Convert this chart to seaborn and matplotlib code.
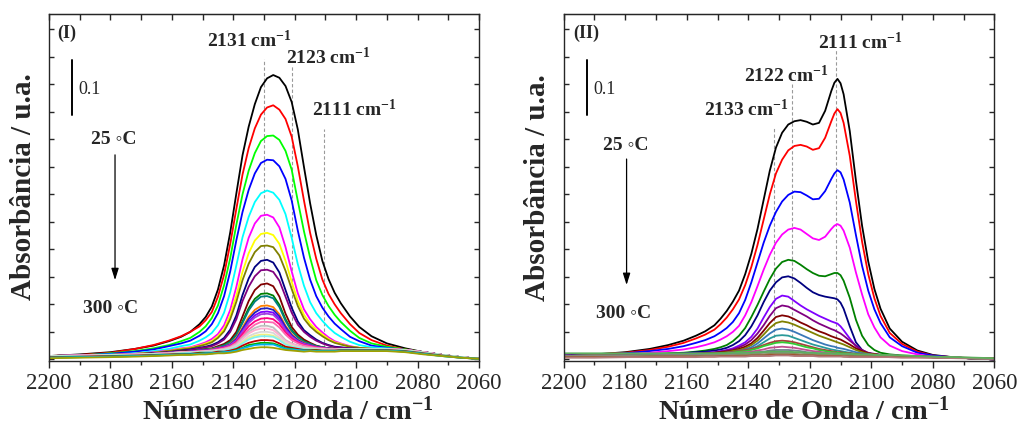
import matplotlib
matplotlib.use("Agg")
import matplotlib.pyplot as plt
import matplotlib.transforms as mtransforms
from matplotlib.ticker import MultipleLocator, NullFormatter
import pandas as pd
import seaborn as sns

sns.set_style("ticks")
plt.rcParams["font.family"] = ["Liberation Serif", "DejaVu Serif"]
plt.rcParams["mathtext.fontset"] = "custom"
plt.rcParams["mathtext.rm"] = "Liberation Serif"
plt.rcParams["mathtext.bf"] = "Liberation Serif:bold"
plt.rcParams["mathtext.it"] = "Liberation Serif:italic"

# ---------------- panel (I) ----------------
WN_I = [2200, 2190, 2180, 2172, 2166, 2161, 2157, 2154, 2151, 2149, 2147, 2145, 2143, 2141,
        2139, 2137, 2135, 2133, 2131, 2129, 2127, 2125, 2123, 2121, 2119, 2117, 2115, 2113,
        2111, 2109, 2107, 2105, 2102, 2099, 2095, 2090, 2084, 2078, 2072, 2066, 2060]

I_BLACK = [0.006, 0.009, 0.013, 0.019, 0.025, 0.033, 0.041, 0.050, 0.064, 0.077, 0.096, 0.127, 0.171, 0.231,
           0.302, 0.371, 0.423, 0.464, 0.495, 0.511, 0.517, 0.512, 0.497, 0.468, 0.418, 0.350, 0.284, 0.226,
           0.179, 0.146, 0.121, 0.102, 0.078, 0.059, 0.042, 0.029, 0.020, 0.013, 0.008, 0.004, 0.001]
I_RED = [0.006, 0.008, 0.012, 0.019, 0.026, 0.034, 0.042, 0.050, 0.060, 0.071, 0.086, 0.114, 0.154, 0.210,
         0.274, 0.336, 0.384, 0.420, 0.445, 0.458, 0.462, 0.454, 0.437, 0.405, 0.351, 0.289, 0.230, 0.183,
         0.145, 0.119, 0.100, 0.084, 0.064, 0.048, 0.035, 0.025, 0.018, 0.013, 0.008, 0.004, 0.001]
I_LIME = [0.006, 0.007, 0.011, 0.015, 0.020, 0.026, 0.033, 0.039, 0.050, 0.060, 0.075, 0.098, 0.135, 0.184,
          0.245, 0.300, 0.343, 0.375, 0.397, 0.406, 0.407, 0.399, 0.379, 0.345, 0.288, 0.233, 0.185, 0.144,
          0.117, 0.097, 0.081, 0.068, 0.052, 0.039, 0.029, 0.023, 0.018, 0.013, 0.008, 0.004, 0.001]
I_BLUE = [0.006, 0.007, 0.010, 0.014, 0.018, 0.024, 0.029, 0.034, 0.043, 0.051, 0.064, 0.084, 0.115, 0.160,
          0.217, 0.268, 0.308, 0.338, 0.357, 0.363, 0.362, 0.351, 0.328, 0.289, 0.234, 0.185, 0.145, 0.115,
          0.094, 0.078, 0.065, 0.055, 0.041, 0.033, 0.025, 0.021, 0.017, 0.013, 0.008, 0.004, 0.001]
I_CYAN = [0.006, 0.007, 0.009, 0.011, 0.015, 0.019, 0.024, 0.027, 0.034, 0.040, 0.048, 0.062, 0.085, 0.122,
          0.171, 0.222, 0.259, 0.286, 0.302, 0.307, 0.303, 0.290, 0.264, 0.221, 0.173, 0.134, 0.104, 0.084,
          0.070, 0.058, 0.048, 0.041, 0.032, 0.026, 0.022, 0.020, 0.017, 0.013, 0.008, 0.004, 0.001]
I_MAGENTA = [0.006, 0.007, 0.008, 0.010, 0.013, 0.016, 0.020, 0.022, 0.027, 0.031, 0.037, 0.046, 0.062, 0.090,
             0.132, 0.182, 0.221, 0.247, 0.261, 0.263, 0.258, 0.240, 0.204, 0.160, 0.120, 0.091, 0.073, 0.059,
             0.049, 0.040, 0.033, 0.029, 0.024, 0.021, 0.019, 0.019, 0.017, 0.013, 0.008, 0.004, 0.001]
I_YELLOW = [0.006, 0.007, 0.008, 0.010, 0.012, 0.015, 0.019, 0.021, 0.025, 0.029, 0.033, 0.042, 0.055, 0.080,
            0.116, 0.159, 0.193, 0.216, 0.228, 0.230, 0.226, 0.210, 0.179, 0.141, 0.106, 0.081, 0.065, 0.054,
            0.045, 0.037, 0.031, 0.028, 0.023, 0.021, 0.019, 0.019, 0.017, 0.013, 0.008, 0.004, 0.001]
I_OLIVE = [0.006, 0.007, 0.008, 0.010, 0.012, 0.015, 0.018, 0.020, 0.024, 0.027, 0.031, 0.039, 0.051, 0.073,
           0.105, 0.144, 0.174, 0.195, 0.206, 0.207, 0.204, 0.189, 0.161, 0.128, 0.097, 0.074, 0.060, 0.050,
           0.042, 0.035, 0.030, 0.027, 0.023, 0.021, 0.019, 0.019, 0.017, 0.013, 0.008, 0.004, 0.001]
I_NAVY = [0.006, 0.007, 0.008, 0.009, 0.011, 0.013, 0.016, 0.018, 0.021, 0.023, 0.026, 0.031, 0.039, 0.054,
          0.080, 0.117, 0.147, 0.168, 0.179, 0.181, 0.176, 0.158, 0.126, 0.094, 0.069, 0.053, 0.044, 0.036,
          0.030, 0.026, 0.023, 0.022, 0.020, 0.019, 0.019, 0.019, 0.017, 0.013, 0.008, 0.004, 0.001]
I_PURPLE = [0.006, 0.007, 0.008, 0.009, 0.011, 0.013, 0.015, 0.017, 0.020, 0.022, 0.024, 0.029, 0.036, 0.050,
            0.073, 0.106, 0.132, 0.151, 0.162, 0.163, 0.159, 0.143, 0.114, 0.085, 0.063, 0.050, 0.041, 0.034,
            0.029, 0.025, 0.022, 0.021, 0.020, 0.019, 0.019, 0.019, 0.017, 0.013, 0.008, 0.004, 0.001]
I_WINE = [0.006, 0.007, 0.008, 0.009, 0.010, 0.012, 0.014, 0.015, 0.017, 0.019, 0.020, 0.024, 0.028, 0.035,
          0.050, 0.078, 0.106, 0.126, 0.136, 0.138, 0.133, 0.114, 0.083, 0.059, 0.045, 0.036, 0.030, 0.025,
          0.022, 0.020, 0.019, 0.019, 0.019, 0.019, 0.019, 0.019, 0.017, 0.013, 0.008, 0.004, 0.001]
I_DKGREEN = [0.006, 0.007, 0.008, 0.009, 0.010, 0.012, 0.014, 0.014, 0.017, 0.018, 0.019, 0.022, 0.026, 0.032,
             0.045, 0.069, 0.093, 0.110, 0.119, 0.120, 0.116, 0.099, 0.073, 0.053, 0.041, 0.033, 0.028, 0.024,
             0.022, 0.020, 0.019, 0.019, 0.019, 0.019, 0.019, 0.019, 0.017, 0.013, 0.008, 0.004, 0.001]
I_TEAL = [0.006, 0.007, 0.008, 0.009, 0.010, 0.012, 0.013, 0.014, 0.017, 0.018, 0.019, 0.022, 0.025, 0.031,
          0.044, 0.066, 0.089, 0.105, 0.114, 0.115, 0.111, 0.095, 0.070, 0.051, 0.040, 0.032, 0.028, 0.024,
          0.022, 0.020, 0.019, 0.019, 0.019, 0.019, 0.019, 0.019, 0.017, 0.013, 0.008, 0.004, 0.001]
I_ORANGE = [0.006, 0.007, 0.008, 0.009, 0.010, 0.012, 0.013, 0.014, 0.016, 0.017, 0.018, 0.021, 0.023, 0.028,
            0.039, 0.058, 0.077, 0.090, 0.097, 0.098, 0.095, 0.082, 0.061, 0.046, 0.036, 0.030, 0.026, 0.023,
            0.021, 0.020, 0.019, 0.019, 0.019, 0.019, 0.019, 0.019, 0.017, 0.013, 0.008, 0.004, 0.001]
I_ROYAL = [0.006, 0.007, 0.008, 0.009, 0.010, 0.012, 0.013, 0.014, 0.016, 0.017, 0.017, 0.020, 0.023, 0.027,
           0.037, 0.055, 0.073, 0.085, 0.092, 0.093, 0.090, 0.078, 0.059, 0.044, 0.035, 0.029, 0.026, 0.023,
           0.021, 0.020, 0.019, 0.019, 0.019, 0.019, 0.019, 0.019, 0.017, 0.013, 0.008, 0.004, 0.001]
I_VIOLET = [0.006, 0.007, 0.008, 0.009, 0.010, 0.012, 0.013, 0.014, 0.016, 0.016, 0.017, 0.020, 0.022, 0.026,
            0.035, 0.052, 0.068, 0.080, 0.086, 0.087, 0.085, 0.073, 0.055, 0.042, 0.033, 0.028, 0.025, 0.022,
            0.021, 0.019, 0.019, 0.019, 0.019, 0.019, 0.019, 0.019, 0.017, 0.013, 0.008, 0.004, 0.001]
I_BLUEVIOLET = [0.006, 0.007, 0.008, 0.009, 0.010, 0.012, 0.013, 0.014, 0.015, 0.016, 0.017, 0.019, 0.022, 0.026,
                0.034, 0.050, 0.066, 0.076, 0.082, 0.083, 0.081, 0.070, 0.053, 0.041, 0.033, 0.028, 0.025, 0.022,
                0.020, 0.019, 0.019, 0.019, 0.019, 0.019, 0.019, 0.019, 0.017, 0.013, 0.008, 0.004, 0.001]
I_DEEPPINK = [0.006, 0.007, 0.008, 0.009, 0.010, 0.011, 0.013, 0.013, 0.015, 0.016, 0.016, 0.019, 0.021, 0.024,
              0.032, 0.046, 0.060, 0.069, 0.074, 0.075, 0.073, 0.064, 0.049, 0.038, 0.031, 0.026, 0.024, 0.022,
              0.020, 0.019, 0.019, 0.019, 0.019, 0.019, 0.019, 0.019, 0.017, 0.013, 0.008, 0.004, 0.001]
I_HOTPINK = [0.006, 0.007, 0.008, 0.009, 0.010, 0.011, 0.013, 0.013, 0.015, 0.015, 0.016, 0.018, 0.020, 0.023,
             0.030, 0.042, 0.054, 0.063, 0.068, 0.068, 0.067, 0.058, 0.045, 0.035, 0.029, 0.025, 0.023, 0.021,
             0.020, 0.019, 0.019, 0.019, 0.019, 0.019, 0.019, 0.019, 0.017, 0.013, 0.008, 0.004, 0.001]
I_SILVER = [0.006, 0.007, 0.008, 0.009, 0.010, 0.011, 0.013, 0.013, 0.014, 0.015, 0.016, 0.017, 0.019, 0.022,
            0.028, 0.039, 0.050, 0.057, 0.061, 0.061, 0.058, 0.047, 0.035, 0.029, 0.025, 0.022, 0.021, 0.020,
            0.019, 0.018, 0.018, 0.019, 0.019, 0.019, 0.019, 0.019, 0.017, 0.013, 0.008, 0.004, 0.001]
I_LTPINK = [0.006, 0.007, 0.008, 0.009, 0.010, 0.011, 0.013, 0.013, 0.014, 0.015, 0.015, 0.017, 0.018, 0.021,
            0.026, 0.037, 0.047, 0.053, 0.056, 0.056, 0.053, 0.044, 0.033, 0.028, 0.024, 0.021, 0.020, 0.019,
            0.019, 0.018, 0.018, 0.019, 0.019, 0.019, 0.019, 0.019, 0.017, 0.013, 0.008, 0.004, 0.001]
I_LTGRAY = [0.005, 0.006, 0.007, 0.008, 0.009, 0.010, 0.011, 0.012, 0.013, 0.014, 0.014, 0.016, 0.017, 0.019,
            0.024, 0.033, 0.042, 0.047, 0.050, 0.050, 0.048, 0.039, 0.031, 0.025, 0.022, 0.020, 0.019, 0.018,
            0.018, 0.017, 0.017, 0.018, 0.018, 0.018, 0.018, 0.018, 0.016, 0.012, 0.008, 0.004, 0.001]
I_LTYELLOW = [0.005, 0.006, 0.007, 0.008, 0.009, 0.010, 0.011, 0.012, 0.013, 0.013, 0.014, 0.015, 0.016, 0.018,
              0.022, 0.031, 0.038, 0.043, 0.045, 0.045, 0.043, 0.036, 0.028, 0.024, 0.021, 0.019, 0.019, 0.018,
              0.017, 0.017, 0.017, 0.018, 0.018, 0.018, 0.018, 0.018, 0.016, 0.012, 0.008, 0.004, 0.001]
I_LTCYAN = [0.005, 0.006, 0.007, 0.008, 0.009, 0.010, 0.011, 0.012, 0.013, 0.013, 0.014, 0.015, 0.016, 0.018,
            0.022, 0.029, 0.036, 0.040, 0.042, 0.042, 0.041, 0.035, 0.027, 0.023, 0.021, 0.019, 0.018, 0.018,
            0.017, 0.017, 0.017, 0.018, 0.018, 0.018, 0.018, 0.018, 0.016, 0.012, 0.008, 0.004, 0.001]
I_DARKRED = [0.004, 0.005, 0.006, 0.007, 0.008, 0.009, 0.010, 0.010, 0.012, 0.012, 0.012, 0.014, 0.014, 0.016,
             0.019, 0.025, 0.030, 0.033, 0.035, 0.035, 0.034, 0.029, 0.023, 0.021, 0.019, 0.017, 0.017, 0.017,
             0.016, 0.016, 0.016, 0.017, 0.017, 0.017, 0.017, 0.017, 0.015, 0.011, 0.007, 0.003, 0.001]
I_GREEN = [0.003, 0.004, 0.005, 0.006, 0.007, 0.008, 0.009, 0.009, 0.011, 0.011, 0.011, 0.012, 0.013, 0.014,
           0.017, 0.021, 0.026, 0.028, 0.030, 0.030, 0.029, 0.025, 0.020, 0.019, 0.017, 0.016, 0.016, 0.016,
           0.015, 0.015, 0.015, 0.016, 0.016, 0.016, 0.016, 0.016, 0.014, 0.010, 0.006, 0.003, 0.001]
I_SKY = [0.003, 0.004, 0.005, 0.006, 0.007, 0.008, 0.009, 0.009, 0.010, 0.011, 0.011, 0.012, 0.013, 0.014,
         0.016, 0.020, 0.023, 0.026, 0.027, 0.027, 0.027, 0.023, 0.019, 0.018, 0.017, 0.016, 0.016, 0.015,
         0.015, 0.015, 0.015, 0.016, 0.016, 0.016, 0.016, 0.016, 0.014, 0.010, 0.006, 0.003, 0.001]
I_KHAKI = [0.002, 0.003, 0.004, 0.005, 0.006, 0.007, 0.008, 0.008, 0.009, 0.009, 0.010, 0.011, 0.011, 0.012,
           0.014, 0.017, 0.019, 0.021, 0.022, 0.022, 0.021, 0.019, 0.017, 0.016, 0.015, 0.014, 0.015, 0.014,
           0.014, 0.014, 0.014, 0.015, 0.015, 0.015, 0.015, 0.015, 0.013, 0.009, 0.006, 0.003, 0.001]

CURVES_I = [I_BLACK, I_RED, I_LIME, I_BLUE, I_CYAN, I_MAGENTA, I_YELLOW, I_OLIVE, I_NAVY, I_PURPLE,
            I_WINE, I_DKGREEN, I_TEAL, I_ORANGE, I_ROYAL, I_VIOLET, I_BLUEVIOLET, I_DEEPPINK, I_HOTPINK,
            I_SILVER, I_LTPINK, I_LTGRAY, I_LTYELLOW, I_LTCYAN, I_DARKRED, I_GREEN, I_SKY, I_KHAKI]
COLORS_I = ["#000000", "#FF0000", "#00FF00", "#0000FF", "#00FFFF", "#FF00FF", "#FFFF00", "#808000",
            "#000080", "#800080", "#800000", "#008000", "#008080", "#FF8000", "#2020C0", "#8000FF",
            "#A040E0", "#FF0080", "#FF66B0", "#C0C0C0", "#FFB0D0", "#D8D8D8", "#F0F080", "#80F0F0",
            "#C00000", "#00B000", "#00B0F0", "#A0A000"]

# ---------------- panel (II) ----------------
WN_II = [2200, 2190, 2180, 2172, 2166, 2161, 2157, 2154, 2151, 2149, 2147, 2145, 2143, 2141, 2139,
         2137, 2135, 2133, 2131, 2129, 2127, 2125, 2123, 2121, 2119, 2117, 2115, 2113, 2112, 2111,
         2110, 2109, 2107, 2105, 2103, 2101, 2099, 2097, 2094, 2090, 2085, 2080, 2072, 2060]

II_BLACK = [0.007, 0.009, 0.013, 0.019, 0.026, 0.034, 0.043, 0.051, 0.062, 0.074, 0.088, 0.105, 0.125, 0.155, 0.192,
            0.237, 0.290, 0.343, 0.385, 0.412, 0.427, 0.433, 0.435, 0.432, 0.427, 0.430, 0.452, 0.488, 0.503, 0.510,
            0.502, 0.482, 0.415, 0.325, 0.243, 0.178, 0.128, 0.092, 0.056, 0.032, 0.016, 0.008, 0.003, 0.000]
II_RED = [0.007, 0.009, 0.012, 0.017, 0.023, 0.030, 0.038, 0.045, 0.054, 0.064, 0.076, 0.091, 0.109, 0.135, 0.168,
          0.208, 0.254, 0.300, 0.338, 0.363, 0.380, 0.388, 0.390, 0.387, 0.381, 0.384, 0.403, 0.433, 0.447, 0.455,
          0.448, 0.430, 0.370, 0.288, 0.214, 0.155, 0.111, 0.079, 0.048, 0.028, 0.014, 0.007, 0.003, 0.000]
II_BLUE = [0.007, 0.008, 0.011, 0.015, 0.019, 0.024, 0.030, 0.035, 0.042, 0.049, 0.057, 0.068, 0.084, 0.108, 0.140,
           0.176, 0.212, 0.243, 0.268, 0.287, 0.299, 0.305, 0.304, 0.298, 0.291, 0.292, 0.306, 0.328, 0.338, 0.344,
           0.340, 0.327, 0.285, 0.226, 0.170, 0.125, 0.091, 0.066, 0.040, 0.024, 0.012, 0.007, 0.003, 0.000]
II_MAGENTA = [0.006, 0.007, 0.009, 0.012, 0.015, 0.018, 0.022, 0.026, 0.031, 0.036, 0.042, 0.050, 0.061, 0.080, 0.104,
              0.133, 0.163, 0.190, 0.212, 0.227, 0.236, 0.239, 0.236, 0.228, 0.220, 0.217, 0.223, 0.237, 0.243, 0.246,
              0.243, 0.234, 0.203, 0.158, 0.118, 0.082, 0.058, 0.040, 0.025, 0.015, 0.009, 0.005, 0.003, 0.000]
II_GREEN = [0.006, 0.007, 0.008, 0.009, 0.011, 0.012, 0.014, 0.016, 0.019, 0.022, 0.026, 0.033, 0.043, 0.057, 0.077,
            0.099, 0.123, 0.146, 0.165, 0.177, 0.181, 0.179, 0.172, 0.164, 0.157, 0.152, 0.151, 0.155, 0.157, 0.157,
            0.153, 0.143, 0.112, 0.072, 0.043, 0.026, 0.017, 0.012, 0.009, 0.007, 0.006, 0.005, 0.003, 0.000]
II_NAVY = [0.006, 0.007, 0.008, 0.009, 0.010, 0.011, 0.013, 0.014, 0.016, 0.018, 0.021, 0.026, 0.033, 0.044, 0.060,
           0.080, 0.104, 0.125, 0.140, 0.149, 0.151, 0.147, 0.139, 0.130, 0.122, 0.117, 0.114, 0.112, 0.111, 0.109,
           0.103, 0.092, 0.060, 0.031, 0.017, 0.011, 0.009, 0.008, 0.007, 0.006, 0.005, 0.004, 0.003, 0.000]
II_VIOLET = [0.006, 0.007, 0.007, 0.008, 0.009, 0.010, 0.011, 0.012, 0.013, 0.015, 0.017, 0.020, 0.025, 0.031, 0.041,
             0.056, 0.076, 0.095, 0.110, 0.116, 0.114, 0.106, 0.098, 0.091, 0.085, 0.079, 0.074, 0.069, 0.067, 0.065,
             0.060, 0.053, 0.038, 0.024, 0.015, 0.011, 0.009, 0.008, 0.007, 0.006, 0.005, 0.004, 0.003, 0.000]
II_PURPLE = [0.006, 0.007, 0.007, 0.008, 0.009, 0.010, 0.010, 0.011, 0.012, 0.014, 0.016, 0.018, 0.022, 0.027, 0.035,
             0.047, 0.062, 0.079, 0.093, 0.098, 0.096, 0.090, 0.084, 0.078, 0.071, 0.065, 0.060, 0.055, 0.053, 0.050,
             0.047, 0.043, 0.034, 0.025, 0.017, 0.012, 0.010, 0.008, 0.007, 0.006, 0.005, 0.004, 0.003, 0.000]
II_WINE = [0.006, 0.007, 0.007, 0.008, 0.009, 0.009, 0.010, 0.011, 0.012, 0.013, 0.014, 0.016, 0.019, 0.023, 0.029,
           0.039, 0.052, 0.066, 0.077, 0.080, 0.078, 0.073, 0.067, 0.062, 0.056, 0.051, 0.047, 0.042, 0.040, 0.038,
           0.036, 0.033, 0.027, 0.020, 0.015, 0.011, 0.009, 0.008, 0.007, 0.006, 0.005, 0.004, 0.003, 0.000]
II_OLIVE = [0.006, 0.007, 0.007, 0.008, 0.008, 0.009, 0.010, 0.010, 0.011, 0.012, 0.013, 0.015, 0.017, 0.020, 0.026,
            0.034, 0.045, 0.057, 0.066, 0.069, 0.067, 0.063, 0.058, 0.053, 0.048, 0.043, 0.039, 0.035, 0.033, 0.031,
            0.029, 0.027, 0.022, 0.017, 0.013, 0.010, 0.009, 0.008, 0.007, 0.006, 0.005, 0.004, 0.003, 0.000]
II_STEEL = [0.006, 0.007, 0.007, 0.008, 0.008, 0.009, 0.009, 0.010, 0.010, 0.011, 0.012, 0.013, 0.015, 0.018, 0.022,
            0.029, 0.038, 0.047, 0.054, 0.056, 0.054, 0.050, 0.045, 0.040, 0.035, 0.031, 0.027, 0.024, 0.023, 0.021,
            0.020, 0.019, 0.016, 0.013, 0.011, 0.009, 0.008, 0.008, 0.007, 0.006, 0.005, 0.004, 0.003, 0.000]
II_TEAL = [0.006, 0.007, 0.007, 0.008, 0.008, 0.009, 0.009, 0.009, 0.010, 0.010, 0.011, 0.012, 0.013, 0.015, 0.019,
           0.024, 0.031, 0.038, 0.043, 0.044, 0.043, 0.039, 0.035, 0.031, 0.027, 0.024, 0.021, 0.018, 0.017, 0.016,
           0.015, 0.014, 0.012, 0.010, 0.009, 0.008, 0.008, 0.007, 0.007, 0.006, 0.005, 0.004, 0.003, 0.000]
II_BROWN = [0.006, 0.007, 0.007, 0.008, 0.008, 0.009, 0.009, 0.010, 0.011, 0.011, 0.012, 0.013, 0.015, 0.017, 0.019,
            0.022, 0.026, 0.030, 0.033, 0.034, 0.033, 0.031, 0.028, 0.025, 0.022, 0.019, 0.017, 0.015, 0.014, 0.013,
            0.013, 0.012, 0.011, 0.010, 0.009, 0.008, 0.008, 0.007, 0.007, 0.006, 0.005, 0.004, 0.003, 0.000]
II_LEAF = [0.006, 0.007, 0.007, 0.008, 0.008, 0.009, 0.009, 0.010, 0.010, 0.011, 0.011, 0.012, 0.014, 0.015, 0.017,
           0.020, 0.024, 0.027, 0.030, 0.031, 0.030, 0.028, 0.025, 0.022, 0.020, 0.017, 0.015, 0.013, 0.013, 0.012,
           0.011, 0.011, 0.010, 0.009, 0.008, 0.008, 0.007, 0.007, 0.006, 0.006, 0.005, 0.004, 0.003, 0.001]
II_ORCHID = [0.006, 0.007, 0.007, 0.007, 0.008, 0.008, 0.009, 0.009, 0.009, 0.010, 0.010, 0.011, 0.012, 0.013, 0.014,
             0.016, 0.018, 0.021, 0.022, 0.023, 0.022, 0.021, 0.019, 0.017, 0.015, 0.014, 0.012, 0.011, 0.011, 0.010,
             0.010, 0.009, 0.009, 0.008, 0.008, 0.007, 0.007, 0.007, 0.006, 0.006, 0.005, 0.004, 0.003, 0.001]
II_SLATE = [0.006, 0.006, 0.007, 0.007, 0.007, 0.008, 0.008, 0.008, 0.009, 0.009, 0.009, 0.010, 0.011, 0.011, 0.012,
            0.013, 0.014, 0.016, 0.017, 0.017, 0.017, 0.016, 0.015, 0.013, 0.012, 0.011, 0.010, 0.009, 0.009, 0.009,
            0.008, 0.008, 0.008, 0.007, 0.007, 0.007, 0.007, 0.006, 0.006, 0.006, 0.005, 0.004, 0.003, 0.001]
II_GRAY = [0.005, 0.006, 0.006, 0.006, 0.007, 0.007, 0.007, 0.008, 0.008, 0.008, 0.008, 0.009, 0.009, 0.010, 0.010,
           0.011, 0.012, 0.012, 0.013, 0.013, 0.013, 0.012, 0.012, 0.011, 0.010, 0.010, 0.009, 0.009, 0.008, 0.008,
           0.008, 0.008, 0.007, 0.007, 0.007, 0.007, 0.006, 0.006, 0.006, 0.005, 0.005, 0.004, 0.003, 0.002]
II_OLIVEGRAY = [0.005, 0.005, 0.005, 0.006, 0.006, 0.006, 0.006, 0.007, 0.007, 0.007, 0.007, 0.007, 0.008, 0.008, 0.008,
                0.009, 0.009, 0.010, 0.010, 0.010, 0.010, 0.010, 0.009, 0.009, 0.008, 0.008, 0.008, 0.007, 0.007, 0.007,
                0.007, 0.007, 0.006, 0.006, 0.006, 0.006, 0.006, 0.005, 0.005, 0.005, 0.004, 0.004, 0.003, 0.002]
II_SIENNA = [0.004, 0.004, 0.004, 0.005, 0.005, 0.005, 0.005, 0.005, 0.005, 0.006, 0.006, 0.006, 0.006, 0.006, 0.007,
             0.007, 0.007, 0.008, 0.008, 0.008, 0.008, 0.008, 0.007, 0.007, 0.007, 0.006, 0.006, 0.006, 0.006, 0.006,
             0.006, 0.005, 0.005, 0.005, 0.005, 0.005, 0.005, 0.005, 0.004, 0.004, 0.004, 0.003, 0.003, 0.002]
II_ROSY = [0.003, 0.003, 0.004, 0.004, 0.004, 0.004, 0.004, 0.005, 0.005, 0.005, 0.005, 0.005, 0.005, 0.005, 0.006,
           0.006, 0.006, 0.006, 0.007, 0.007, 0.007, 0.006, 0.006, 0.006, 0.006, 0.005, 0.005, 0.005, 0.005, 0.005,
           0.005, 0.005, 0.004, 0.004, 0.004, 0.004, 0.004, 0.004, 0.004, 0.003, 0.003, 0.003, 0.002, 0.001]
II_SAGE = [0.011, 0.011, 0.011, 0.011, 0.011, 0.011, 0.011, 0.011, 0.011, 0.011, 0.011, 0.012, 0.012, 0.012, 0.012,
           0.013, 0.013, 0.014, 0.014, 0.014, 0.014, 0.013, 0.013, 0.012, 0.012, 0.011, 0.011, 0.011, 0.010, 0.010,
           0.010, 0.010, 0.010, 0.009, 0.009, 0.009, 0.008, 0.008, 0.008, 0.007, 0.006, 0.005, 0.004, 0.002]

CURVES_II = [II_BLACK, II_RED, II_BLUE, II_MAGENTA, II_GREEN, II_NAVY, II_VIOLET, II_PURPLE, II_WINE,
             II_OLIVE, II_STEEL, II_TEAL, II_BROWN, II_LEAF, II_ORCHID, II_SLATE, II_GRAY, II_OLIVEGRAY,
             II_SIENNA, II_ROSY, II_SAGE]
COLORS_II = ["#000000", "#FF0000", "#0000FF", "#FF00FF", "#008000", "#000080", "#8000FF", "#800080",
             "#800000", "#808000", "#3A78B8", "#2A9A9A", "#A8403C", "#33CC33", "#C0508F", "#708090",
             "#8C8C8C", "#8A8A5C", "#A0522D", "#B07A7A", "#5DAF5D"]

PEAKS_I = [("2131", 2130.0, 0.547, 2148.6, 0.567),
           ("2123", 2121.0, 0.533, 2122.8, 0.536),
           ("2111", 2110.5, 0.418, 2114.4, 0.442)]
PEAKS_II = [("2133", 2131.5, 0.420, 2154.4, 0.442),
            ("2122", 2125.7, 0.502, 2141.4, 0.505),
            ("2111", 2111.6, 0.562, 2117.3, 0.565)]


def long_form(grid, curves):
    frames = []
    for i, vals in enumerate(curves):
        frames.append(pd.DataFrame({"wavenumber": grid, "absorbance": vals, "curve": f"c{i:02d}"}))
    return pd.concat(frames, ignore_index=True)


def draw_panel(ax, grid, curves, colors, peaks, tag, pos, dash_bottom):
    df = long_form(grid, curves)
    names = [f"c{i:02d}" for i in range(len(curves))]

    # guide lines under the spectra
    for _, xline, ytop, _, _ in peaks:
        ax.vlines(xline, dash_bottom, ytop, colors="#9A9A9A", linestyles=(0, (3, 2)), lw=0.8, zorder=0.5)

    sns.lineplot(data=df, x="wavenumber", y="absorbance", hue="curve", hue_order=names,
                 palette=colors, estimator=None, sort=False, legend=False, linewidth=1.3,
                 solid_joinstyle="round", ax=ax)

    for lab, _, _, xt, yt in peaks:
        ax.text(xt, yt, lab + r" cm$^{\mathbf{-1}}$", fontsize=14, fontweight="bold", ha="left", va="baseline")

    ax.set_xlim(2200, 2060)
    ax.set_ylim(-0.003, 0.628)
    ax.set_xlabel("")
    ax.set_ylabel("")
    ax.xaxis.set_major_locator(MultipleLocator(20))
    ax.xaxis.set_minor_locator(MultipleLocator(10))
    ax.yaxis.set_major_locator(MultipleLocator(0.05))
    ax.tick_params(axis="x", which="major", direction="out", length=5, width=1, labelsize=16.5, pad=4)
    ax.tick_params(axis="x", which="minor", direction="out", length=3, width=1)
    ax.tick_params(axis="y", which="major", direction="in", length=3.5, width=1,
                   left=True, right=True, labelleft=False)
    for sp in ax.spines.values():
        sp.set_linewidth(1.0)
        sp.set_visible(True)

    top = ax.secondary_xaxis("top")
    top.xaxis.set_major_locator(MultipleLocator(10))
    top.xaxis.set_major_formatter(NullFormatter())
    top.tick_params(axis="x", direction="in", length=4, width=1)

    # panel tag, scale bar and temperature arrow
    ax.text(pos["tag_x"], 0.945, tag, transform=ax.transAxes, fontsize=13, fontweight="bold",
            ha="left", va="center")
    blend = mtransforms.blended_transform_factory(ax.transAxes, ax.transData)
    ax.plot([pos["bar_x"], pos["bar_x"]], [0.444, 0.544], transform=blend, color="black", lw=1.4)
    ax.text(0.068, 0.781, "0.1", transform=ax.transAxes, fontsize=13, ha="left", va="center")
    ax.text(pos["t1_x"], pos["t1_y"], "25 \u25e6C", transform=ax.transAxes, fontsize=14,
            fontweight="bold", ha="center", va="center")
    ax.text(pos["t2_x"], pos["t2_y"], "300 \u25e6C", transform=ax.transAxes, fontsize=14,
            fontweight="bold", ha="center", va="center")
    ax.annotate("", xy=(pos["arr_x"], pos["arr_y1"]), xytext=(pos["arr_x"], pos["arr_y0"]),
                xycoords="axes fraction", textcoords="axes fraction",
                arrowprops=dict(arrowstyle="-|>,head_length=0.7,head_width=0.22", color="black",
                                lw=0.9, shrinkA=0, shrinkB=0))


fig = plt.figure(figsize=(10.19, 4.25), dpi=100)
ax1 = fig.add_axes([0.0481, 0.1506, 0.4220, 0.8165])
ax2 = fig.add_axes([0.5532, 0.1506, 0.4226, 0.8165])

draw_panel(ax1, WN_I, CURVES_I, COLORS_I, PEAKS_I, "(I)",
           dict(tag_x=0.0186, bar_x=0.053, t1_x=0.150, t1_y=0.637, t2_x=0.143, t2_y=0.150,
                arr_x=0.1535, arr_y0=0.594, arr_y1=0.233), 0.02)
draw_panel(ax2, WN_II, CURVES_II, COLORS_II, PEAKS_II, "(II)",
           dict(tag_x=0.0216, bar_x=0.0534, t1_x=0.1435, t1_y=0.622, t2_x=0.140, t2_y=0.138,
                arr_x=0.146, arr_y0=0.582, arr_y1=0.219), 0.01)

xlab = r"Número de Onda / cm$^{\mathbf{-1}}$"
ylab = "Absorbância / u.a."
fig.text(0.2826, 0.012, xlab, fontsize=20.5, fontweight="bold", ha="center", va="baseline")
fig.text(0.789, 0.012, xlab, fontsize=20.5, fontweight="bold", ha="center", va="baseline")
fig.text(0.0226, 0.56, ylab, fontsize=21, fontweight="bold", rotation=90, ha="center", va="center")
fig.text(0.527, 0.558, ylab, fontsize=21, fontweight="bold", rotation=90, ha="center", va="center")

fig.savefig("out.png", dpi=100)
